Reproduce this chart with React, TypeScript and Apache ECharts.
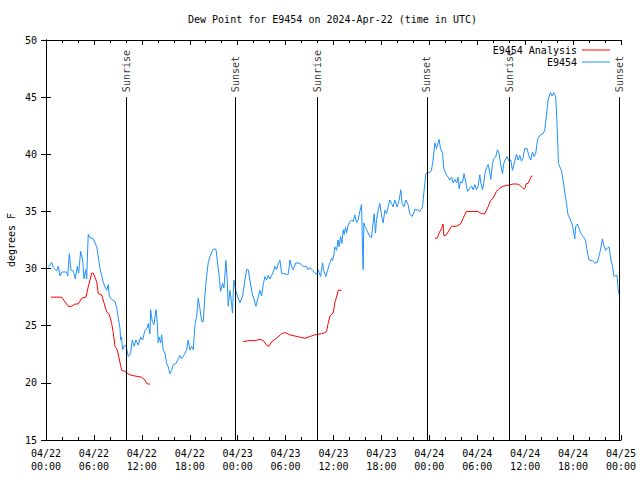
import React, { useEffect, useRef } from "react";
import * as echarts from "echarts";

// Hours since 2024-04-22 00:00 UTC, dew point in °F
const e9454Obs: [number, number][] = [
  [0.29,30.1],[0.71,30.55],[0.91,30.1],[1.34,29.8],[1.54,30.2],[1.75,29.35],[1.96,29.7],[2.59,29.7],[2.72,29.35],[2.92,31.3],
  [3.13,29.85],[3.42,29.8],[3.67,29.1],[3.92,30.2],[4.09,29.6],[4.34,31.5],[4.59,30.75],[4.76,29.1],[4.97,29.9],[5.09,29.1],
  [5.29,33.0],[5.51,32.7],[5.92,32.6],[6.35,31.9],[6.55,31.0],[6.76,30.0],[6.97,29.4],[7.17,28.8],[7.38,28.4],[7.6,28.1],
  [7.8,28.6],[7.92,27.6],[8.22,27.3],[8.64,27.1],[8.85,26.6],[9.05,25.7],[9.26,24.8],[9.35,23.75],[9.45,24.0],[9.6,22.9],
  [9.76,23.2],[10.01,23.3],[10.3,22.3],[10.6,22.6],[10.8,23.75],[11.05,23.2],[11.26,23.75],[11.55,23.3],[11.85,24.0],[12.1,23.75],
  [12.39,24.6],[12.68,24.8],[12.8,25.2],[13.02,24.3],[13.1,26.4],[13.3,25.4],[13.52,25.1],[13.77,26.4],[13.93,25.3],[14.05,23.5],
  [14.18,24.0],[14.36,23.5],[14.48,24.2],[14.68,22.9],[14.89,22.6],[15.11,21.7],[15.31,21.4],[15.52,20.8],[15.73,21.1],[15.93,21.6],
  [16.27,21.7],[16.56,22.1],[16.77,22.4],[16.98,22.1],[17.18,22.3],[17.4,22.6],[17.61,22.9],[17.81,23.75],[18.02,22.9],[18.24,23.2],
  [18.44,22.9],[18.65,25.1],[18.86,25.8],[19.06,27.4],[19.27,26.5],[19.49,25.4],[19.69,25.35],[19.9,27.7],[20.11,29.3],[20.31,30.5],
  [20.65,31.3],[20.94,31.7],[21.28,31.7],[21.44,30.75],[21.69,29.3],[21.86,28.0],[22.11,28.7],[22.28,28.3],[22.53,30.7],[22.69,29.0],
  [22.82,26.7],[23.03,28.1],[23.24,27.0],[23.34,26.1],[23.53,29.0],[23.78,28.0],[24.07,27.4],[24.28,27.0],[24.62,27.6],[24.91,29.0],
  [25.12,29.9],[25.32,29.9],[25.53,29.0],[25.82,27.8],[26.07,27.3],[26.28,26.7],[26.57,27.5],[26.78,28.1],[27.0,27.6],[27.2,28.6],
  [27.41,29.3],[27.62,29.0],[27.82,29.4],[28.04,29.1],[28.25,29.4],[28.45,29.7],[28.66,30.2],[28.87,29.9],[29.07,30.4],[29.29,30.75],
  [29.5,29.6],[30.13,29.5],[30.33,29.5],[30.54,30.75],[30.75,30.2],[30.95,29.9],[31.29,30.5],[31.79,30.45],[32.2,30.2],[32.63,30.2],
  [32.83,29.9],[33.04,30.1],[33.45,29.8],[33.67,29.6],[33.88,29.5],[34.08,29.9],[34.38,29.3],[34.63,30.5],[34.79,29.8],[35.04,29.3],
  [35.33,30.0],[35.54,30.5],[35.76,30.9],[35.88,30.7],[36.05,31.2],[36.17,31.9],[36.38,31.6],[36.58,32.5],[36.71,31.9],[36.88,32.8],
  [37.05,32.2],[37.21,33.4],[37.33,33.0],[37.51,33.6],[37.63,33.1],[37.83,33.8],[38.05,34.1],[38.26,34.25],[38.46,34.1],[38.67,34.7],
  [38.89,34.0],[39.09,34.3],[39.3,35.0],[39.51,35.6],[39.64,31.6],[39.71,29.9],[39.8,34.0],[39.92,33.7],[40.14,33.4],[40.34,33.1],
  [40.55,32.8],[40.76,32.7],[40.96,34.0],[41.09,34.8],[41.26,33.1],[41.39,34.3],[41.59,35.1],[41.8,35.7],[42.02,34.6],[42.22,34.0],
  [42.43,35.1],[42.64,34.8],[42.84,35.4],[43.05,36.0],[43.27,35.7],[43.47,35.4],[43.68,36.0],[43.97,35.4],[44.22,36.0],[44.43,36.9],
  [44.59,35.7],[44.81,35.4],[45.06,36.0],[45.34,35.6],[45.56,34.8],[45.84,34.55],[46.06,34.9],[46.18,35.2],[46.6,35.1],[46.81,35.0],
  [47.15,35.4],[47.31,36.6],[47.56,38.3],[47.72,38.4],[48.06,38.4],[48.27,38.6],[48.47,39.5],[48.69,41.0],[48.9,40.5],[49.1,41.0],
  [49.22,41.3],[49.4,40.5],[49.65,40.1],[49.81,38.8],[50.06,38.3],[50.35,38.0],[50.56,37.75],[50.78,38.0],[50.98,37.5],[51.19,37.8],
  [51.4,37.5],[51.6,38.0],[51.73,37.0],[51.9,37.6],[52.15,37.5],[52.35,38.3],[52.57,37.5],[52.78,36.75],[53.07,37.05],[53.28,37.2],
  [53.48,36.9],[53.69,37.35],[53.9,36.9],[54.1,37.2],[54.32,38.2],[54.44,37.5],[54.66,36.9],[54.82,37.5],[54.98,38.4],[55.16,38.8],
  [55.36,39.1],[55.57,38.4],[55.69,37.8],[55.91,39.2],[56.07,39.6],[56.32,39.8],[56.53,40.4],[56.73,40.1],[56.91,39.2],[57.16,38.3],
  [57.32,39.2],[57.48,39.5],[57.73,39.8],[57.99,39.4],[58.2,39.5],[58.41,38.6],[58.7,39.4],[58.91,40.0],[59.11,39.5],[59.32,39.9],
  [59.54,39.4],[59.74,39.7],[59.95,40.5],[60.24,40.5],[60.49,39.8],[60.7,39.5],[60.91,40.2],[61.11,39.8],[61.33,40.1],[61.49,41.0],
  [61.61,41.4],[61.91,41.7],[62.24,41.8],[62.45,42.1],[62.74,43.9],[62.87,44.75],[63.17,45.4],[63.37,45.1],[63.58,45.4],[63.83,45.0],
  [63.99,42.7],[64.17,39.2],[64.33,38.9],[64.54,38.6],[64.74,37.75],[64.96,36.7],[65.17,35.7],[65.37,34.7],[65.67,34.25],[65.92,33.8],
  [66.21,32.6],[66.33,33.7],[66.55,33.9],[66.75,33.5],[66.96,33.1],[67.25,32.8],[67.55,32.5],[67.75,31.6],[68.0,30.75],[68.42,30.7],
  [68.71,30.5],[69.0,30.5],[69.21,31.0],[69.42,31.6],[69.67,32.6],[69.87,32.0],[70.09,31.6],[70.3,31.8],[70.5,31.9],[70.68,31.0],
  [70.93,30.2],[71.13,29.3],[71.33,29.4],[71.5,29.4],[71.62,28.4],[71.75,27.7],
];

const analysisDay1: [number, number][] = [
  [0.59,27.5],[1.96,27.5],[2.79,26.7],[3.22,26.7],[3.63,26.9],[4.04,26.9],[4.47,27.4],[5.0,27.5],[5.29,28.4],[5.51,29.0],
  [5.72,29.6],[5.92,29.6],[6.35,28.85],[6.55,27.8],[6.97,27.7],[7.26,27.0],[7.6,26.2],[7.92,26.0],[8.22,25.2],[8.42,24.4],
  [8.64,23.2],[8.92,22.9],[9.17,22.1],[9.47,21.1],[9.89,21.0],[10.51,20.7],[11.14,20.6],[11.98,20.5],[12.39,20.25],[12.68,19.9],[13.02,19.9],
];
const analysisDay2: [number, number][] = [
  [24.69,23.6],[25.44,23.7],[26.16,23.7],[26.78,23.8],[27.2,23.7],[27.62,23.3],[27.91,23.2],[28.25,23.6],[28.87,23.9],[29.5,24.3],
  [29.91,24.4],[30.54,24.2],[31.16,24.1],[31.79,24.0],[32.42,23.9],[33.04,24.05],[33.67,24.2],[34.51,24.3],[34.92,24.4],[35.13,24.5],
  [35.33,25.2],[35.54,25.8],[35.76,26.0],[35.96,26.1],[36.17,27.0],[36.38,27.5],[36.58,28.1],[37.0,28.1],
];
const analysisDay3: [number, number][] = [
  [48.69,32.65],[48.97,32.65],[49.22,33.1],[49.52,33.5],[49.72,33.9],[49.81,32.9],[50.06,32.9],[50.35,33.2],[50.78,33.7],[51.4,33.7],
  [51.9,33.9],[52.23,34.4],[52.65,35.0],[54.1,35.0],[54.53,34.8],[54.94,34.8],[55.36,35.4],[55.66,35.95],[55.98,36.15],[56.41,36.75],
  [56.73,37.0],[57.23,37.2],[57.86,37.3],[58.49,37.4],[58.99,37.4],[59.32,37.3],[59.74,37.0],[59.95,37.0],[60.16,37.45],[60.36,37.45],
  [60.79,38.1],[60.91,38.1],
];

const sunEventHours = [10.05, 23.7, 33.96, 47.7, 57.98, 71.8];
const sunEventLabels = ["Sunrise", "Sunset", "Sunrise", "Sunset", "Sunrise", "Sunset"];

const yTicks = { min: 15, max: 50, step: 5 };
const xTicks = { min: 0, max: 72, step: 6 };
const startDay = 22;

const FONT = "DejaVu Sans Mono";

export default function App() {
  const ref = useRef<HTMLDivElement>(null);
  useEffect(() => {
    if (!ref.current) return;
    const chart = echarts.init(ref.current, undefined, { renderer: "svg" });
    const pad = (n: number) => (n < 10 ? "0" + n : "" + n);
    const fmt = (v: number) => {
      const day = startDay + Math.floor(v / 24);
      const hr = v % 24;
      return "04/" + pad(day) + "\n" + pad(hr) + ":00";
    };
    const analysisData: any[] = [
      ...analysisDay1,
      [18, "-"],
      ...analysisDay2,
      [42, "-"],
      ...analysisDay3,
    ];
    const black = "#000";
    const baseX = {
      type: "value",
      min: xTicks.min,
      max: xTicks.max,
      interval: xTicks.step,
      axisLine: { lineStyle: { color: black, width: 1 } },
      axisTick: { inside: true, length: 5, lineStyle: { color: black } },
      minorTick: { show: true, splitNumber: 3, length: 3, lineStyle: { color: black } },
      splitLine: { show: false },
      minorSplitLine: { show: false },
    };
    const baseY = {
      type: "value",
      min: yTicks.min,
      max: yTicks.max,
      interval: yTicks.step,
      axisLine: { show: true, lineStyle: { color: black, width: 1 } },
      axisTick: { show: true, inside: true, length: 5, lineStyle: { color: black } },
      splitLine: { show: false },
    };
    chart.setOption({
      animation: false,
      backgroundColor: "#fff",
      title: {
        text: "Dew Point for E9454 on 2024-Apr-22 (time in UTC)",
        left: 188,
        top: 14,
        padding: 0,
        textStyle: { fontFamily: FONT, fontSize: 10, fontWeight: "normal", color: black },
      },
      graphic: [
        {
          type: "text",
          x: 11,
          y: 240,
          rotation: Math.PI / 2,
          style: {
            text: "degrees F",
            align: "center",
            verticalAlign: "middle",
            font: "10px 'DejaVu Sans Mono'",
            fill: black,
          },
        },
      ],
      grid: { left: 46, right: 19, top: 40, bottom: 40, containLabel: false, outerBoundsMode: "none" },
      legend: {
        data: ["E9454 Analysis", "E9454"],
        orient: "vertical",
        right: 30,
        top: 44,
        align: "right",
        icon: "rect",
        itemWidth: 28,
        itemHeight: 1,
        itemGap: 0,
        padding: 0,
        textStyle: { fontFamily: FONT, fontSize: 10, color: black, lineHeight: 12 },
      },
      xAxis: [
        {
          ...baseX,
          position: "bottom",
          axisLabel: {
            formatter: fmt,
            fontFamily: FONT,
            fontSize: 10,
            color: black,
            lineHeight: 13,
            margin: 7,
            showMinLabel: true,
            showMaxLabel: true,
          },
        },
        { ...baseX, position: "top", axisLabel: { show: false } },
      ],
      yAxis: [
        {
          ...baseY,
          position: "left",
          axisLabel: { fontFamily: FONT, fontSize: 10, color: black, margin: 9 },
        },
        { ...baseY, position: "right", axisLabel: { show: false } },
      ],
      series: [
        {
          name: "E9454 Analysis",
          type: "line",
          data: analysisData,
          showSymbol: false,
          symbol: "none",
          connectNulls: false,
          lineStyle: { color: "#ff0000", width: 1 },
          itemStyle: { color: "#ff0000" },
          z: 3,
        },
        {
          name: "E9454",
          type: "line",
          data: e9454Obs,
          showSymbol: false,
          symbol: "none",
          lineStyle: { color: "#1e90ff", width: 1 },
          itemStyle: { color: "#1e90ff" },
          z: 2,
        },
        {
          name: "sun",
          type: "scatter",
          symbolSize: 0,
          data: sunEventHours.map((h, i) => ({ value: [h, 45], name: sunEventLabels[i] })),
          label: {
            show: true,
            formatter: (p: any) => p.name,
            position: "top",
            distance: 5,
            rotate: 90,
            align: "left",
            verticalAlign: "middle",
            fontFamily: FONT,
            fontSize: 10,
            color: black,
          },
          markLine: {
            silent: true,
            symbol: "none",
            label: { show: false },
            lineStyle: { color: black, width: 1, type: "solid" },
            data: sunEventHours.map((h) => [{ coord: [h, 45] }, { coord: [h, 15] }]),
          },
          z: 4,
        },
      ],
    });
    return () => chart.dispose();
  }, []);
  return (
    <div
      ref={ref}
      style={{ position: "fixed", left: 0, top: 0, width: 640, height: 480, background: "#fff" }}
    />
  );
}
